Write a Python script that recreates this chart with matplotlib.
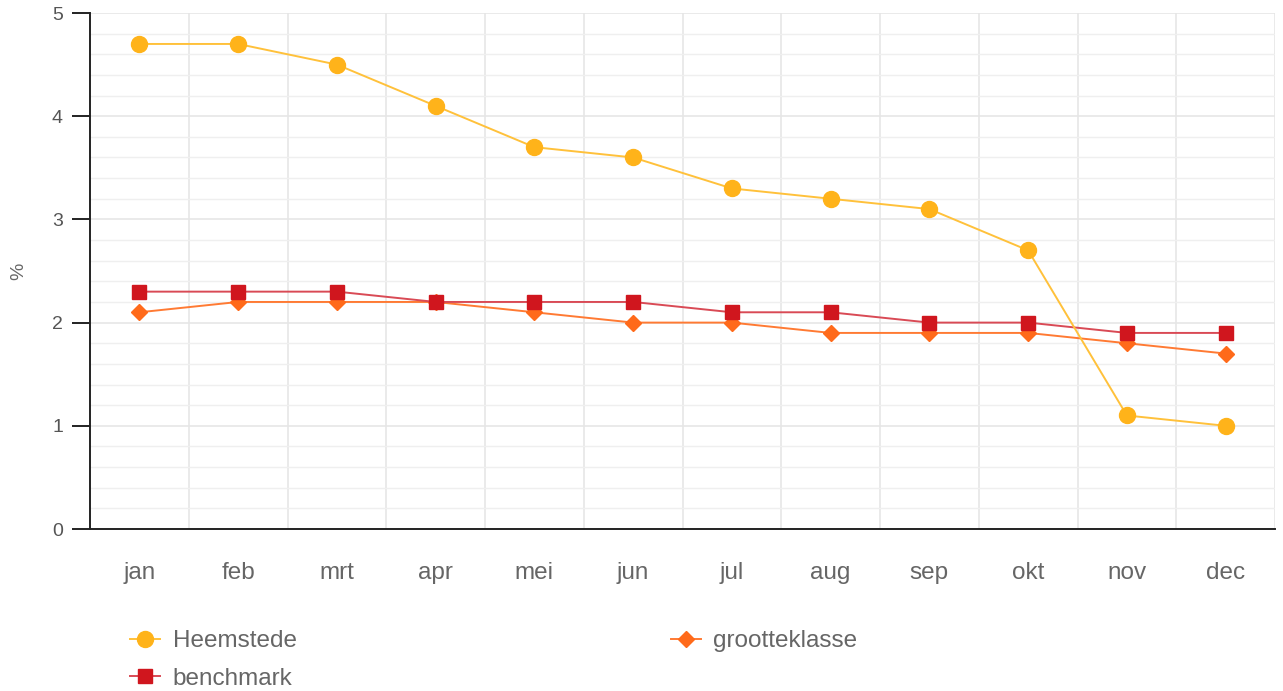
import matplotlib.pyplot as plt
import numpy as np
from matplotlib.ticker import MultipleLocator

months = ["jan", "feb", "mrt", "apr", "mei", "jun", "jul", "aug", "sep", "okt", "nov", "dec"]
heemstede = [4.7, 4.7, 4.5, 4.1, 3.7, 3.6, 3.3, 3.2, 3.1, 2.7, 1.1, 1.0]
benchmark = [2.3, 2.3, 2.3, 2.2, 2.2, 2.2, 2.1, 2.1, 2.0, 2.0, 1.9, 1.9]
grootteklasse = [2.1, 2.2, 2.2, 2.2, 2.1, 2.0, 2.0, 1.9, 1.9, 1.9, 1.8, 1.7]

plt.rcParams["font.family"] = ["Liberation Sans", "DejaVu Sans"]

fig = plt.figure(figsize=(12.83, 6.91), dpi=100)
ax = fig.add_axes([90 / 1283, 162 / 691, 1185 / 1283, 516 / 691])

x = np.arange(len(months))

ax.plot(x, heemstede, color="#FFC13B", linewidth=1.4, marker="o", markersize=11.5,
        markerfacecolor="#FFB31A", markeredgecolor="#FFB31A", label="Heemstede", zorder=4)
ax.plot(x, grootteklasse, color="#FF7A33", linewidth=1.4, marker="D", markersize=8,
        markerfacecolor="#FF6A1A", markeredgecolor="#FF6A1A", label="grootteklasse", zorder=3)
ax.plot(x, benchmark, color="#D94A55", linewidth=1.4, marker="s", markersize=10.5,
        markerfacecolor="#D0161E", markeredgecolor="#D0161E", label="benchmark", zorder=3)

ax.set_xlim(-0.5, 11.5)
ax.set_ylim(0, 5)
ax.set_xticks(x)
ax.set_xticklabels(months)
ax.set_xticks(np.arange(0.5, 12, 1), minor=True)
ax.yaxis.set_major_locator(MultipleLocator(1))
ax.yaxis.set_minor_locator(MultipleLocator(0.2))

ax.grid(True, which="minor", axis="x", color="#E6E6E6", linewidth=1.2)
ax.grid(True, which="major", axis="y", color="#E6E6E6", linewidth=1.2)
ax.grid(True, which="minor", axis="y", color="#EFEFEF", linewidth=1.0)
ax.set_axisbelow(True)

for s in ["top", "right"]:
    ax.spines[s].set_visible(False)
for s in ["left", "bottom"]:
    ax.spines[s].set_color("#222222")
    ax.spines[s].set_linewidth(1.4)

ax.tick_params(axis="x", which="both", length=0, pad=24, labelsize=17.5, labelcolor="#666666")
ax.tick_params(axis="y", which="major", length=13, width=1.4, color="#222222",
               labelsize=14, labelcolor="#555555", pad=6.5)
ax.tick_params(axis="y", which="minor", length=0)

ax.set_ylabel("%", fontsize=14, color="#666666")
ax.yaxis.set_label_coords(-(90 - 27) / 1185, 0.5)

handles, labels = ax.get_legend_handles_labels()
order = [0, 2, 1]
fig.legend([handles[i] for i in order], [labels[i] for i in order],
           ncol=2, loc="upper left", bbox_to_anchor=(130 / 1283, 1 - 630 / 691),
           frameon=False, fontsize=17.5, labelcolor="#666666", handlelength=1.25,
           handletextpad=0.5, columnspacing=15.4, labelspacing=0.64, borderpad=0,
           borderaxespad=0)

fig.savefig("out.png", dpi=100)
